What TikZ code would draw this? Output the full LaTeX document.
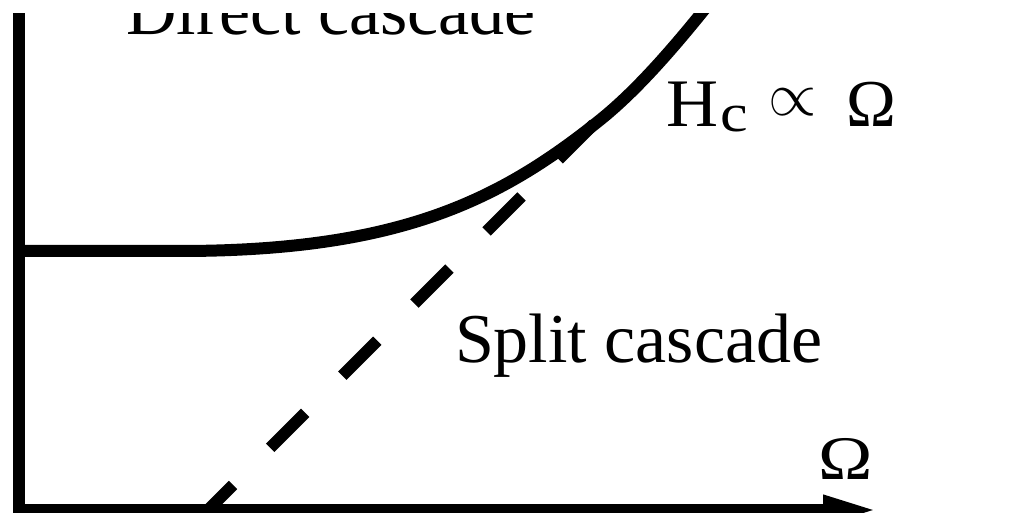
\documentclass[tikz,border=0pt]{standalone}
\usepackage{fontspec}
\setmainfont{Liberation Serif}
\usetikzlibrary{arrows.meta}
\begin{document}
\begin{tikzpicture}[x=1pt,y=-1pt,
  heavy/.style={line width=12pt, line cap=butt},
  lab/.style={inner sep=0pt, outer sep=0pt, anchor=base west},
  bigtext/.style={font=\fontsize{70}{84}\selectfont}]
\useasboundingbox (0,0) rectangle (1018,513);
\clip (0,14) rectangle (1018,513);
% axes
\coordinate (ytop) at (19,0);
\coordinate (ybot) at (19,520);
\coordinate (xstart) at (13,510);
\coordinate (xend) at (878,510);
\draw[heavy] (ybot) -- (ytop);
\draw[heavy, -{Triangle[length=55pt,width=27pt]}] (xstart) -- (xend);
% critical curve
\coordinate (c0) at (19,251);
\coordinate (c1) at (180,251);
\coordinate (c2) at (600,120);
\coordinate (c3) at (712,0);
\draw[heavy, line join=round] (c0) -- (c1)
  .. controls (400,251) and (500,200) .. (c2)
  .. controls (640,88) and (680,40) .. (c3);
% asymptote
\coordinate (d0) at (198,520);
\coordinate (d1) at (594,124);
\draw[heavy, dash pattern=on 49.5pt off 52.5pt] (d0) -- (d1);
% labels
\node[lab, bigtext] (direct) at (126,35) {Direct cascade};
\node[lab, bigtext] (split) at (455,362) {Split cascade};
\node[lab, font=\fontsize{68}{80}\selectfont] (hc) at (666,127) {\scalebox{1.06}[1]{H}\kern2pt\raisebox{-5pt}{\fontsize{54}{54}\selectfont\scalebox{1.15}[1]{c}}};
\node[inner sep=0pt] (prop) at (792.5,102.5) {\scalebox{6.2}{$\propto$}};
\node[lab, font=\fontsize{67}{80}\selectfont] (omr) at (846,127) {Ω};
\node[lab, font=\fontsize{62}{74}\selectfont] (oma) at (818,479) {\scalebox{1.18}[1]{Ω}};
\end{tikzpicture}
\end{document}
